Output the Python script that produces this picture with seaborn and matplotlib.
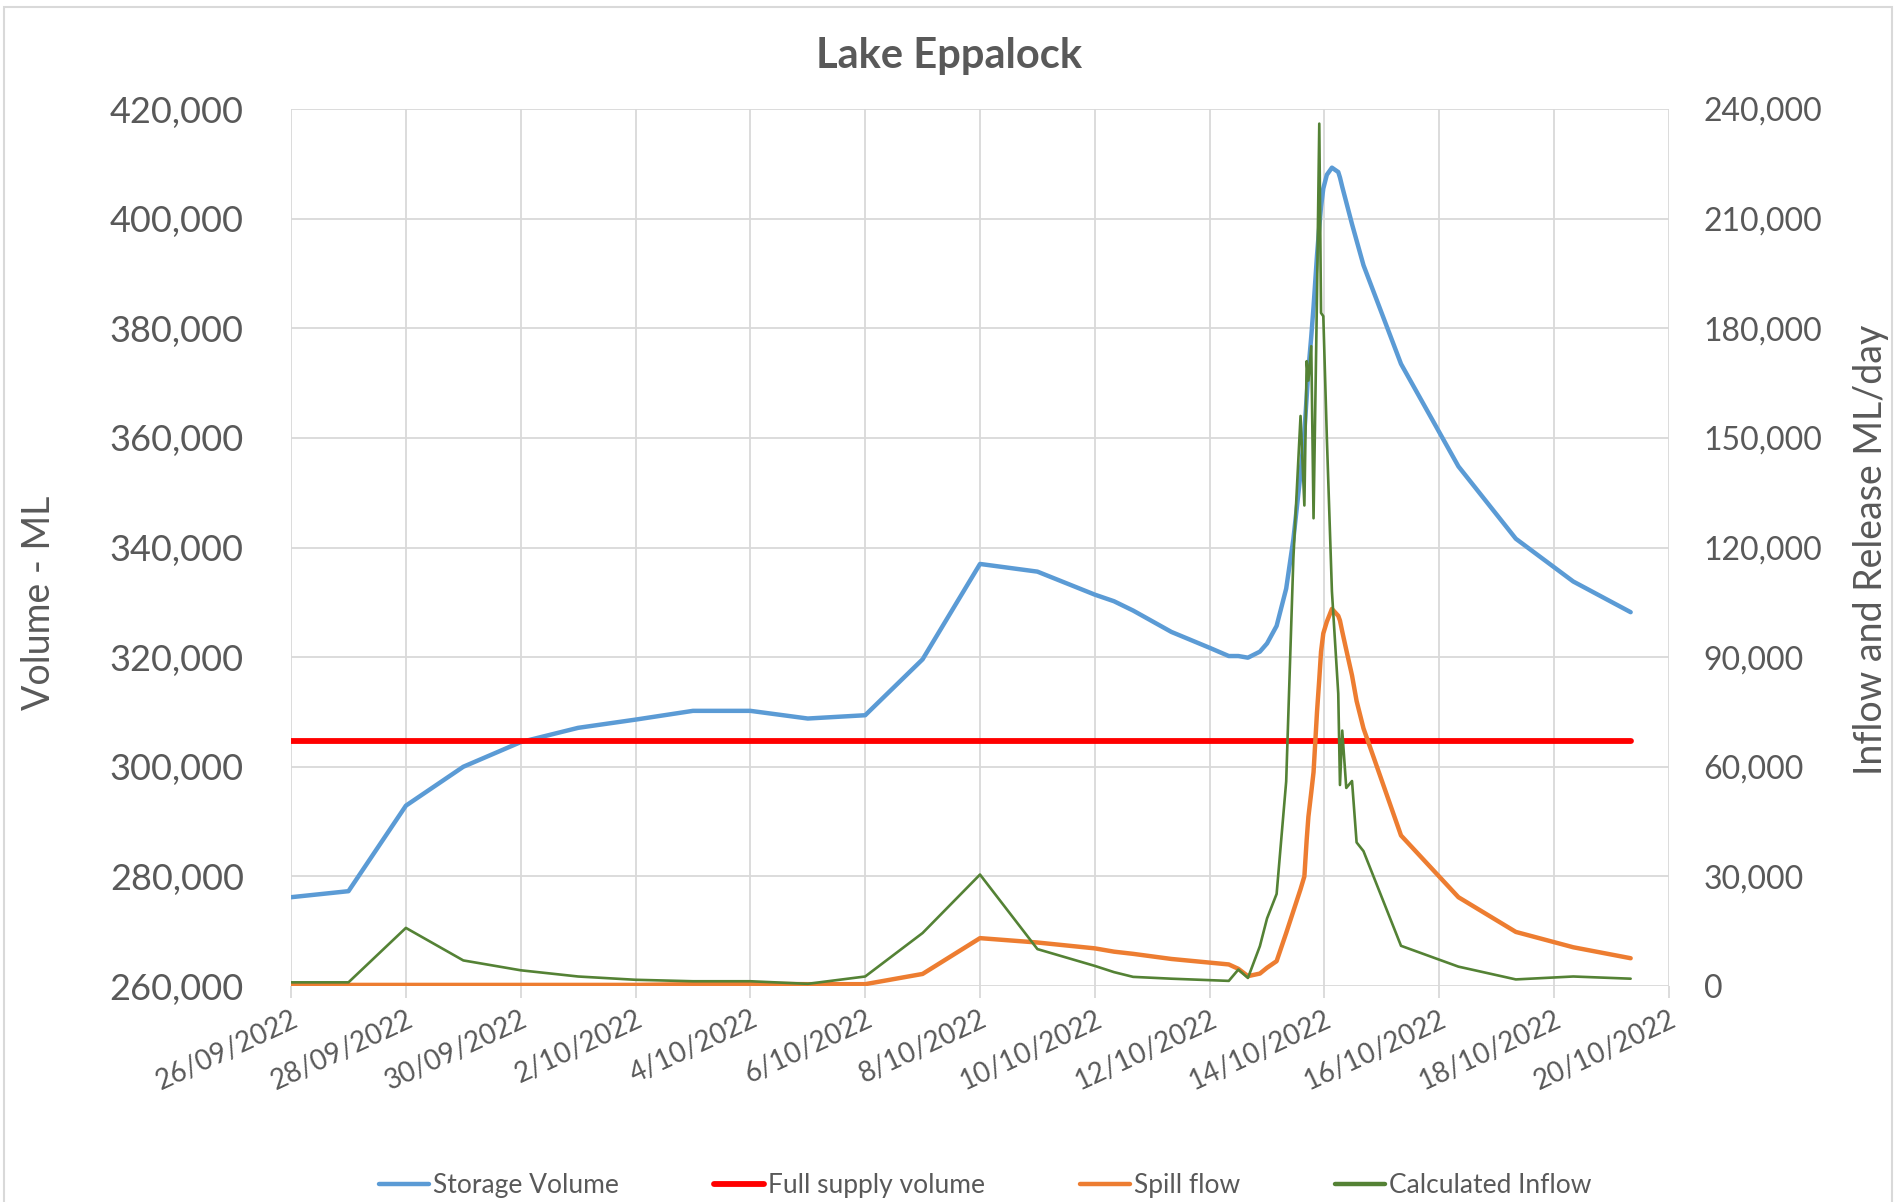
import matplotlib
matplotlib.use('Agg')
import matplotlib.pyplot as plt
import matplotlib.dates as mdates
import matplotlib.patches as patches
from matplotlib.ticker import FuncFormatter, MultipleLocator
from matplotlib.lines import Line2D
import seaborn as sns
import pandas as pd

# readings (time, storage ML, spill ML/day, inflow ML/day)
times = [
    "2022-09-26 00:00", "2022-09-27 00:00", "2022-09-28 00:00", "2022-09-29 00:00",
    "2022-09-30 00:00", "2022-10-01 00:00", "2022-10-02 00:00", "2022-10-03 00:00",
    "2022-10-04 00:00", "2022-10-05 00:00", "2022-10-06 00:00", "2022-10-07 00:00",
    "2022-10-08 00:00", "2022-10-09 00:00", "2022-10-10 00:00", "2022-10-10 08:00",
    "2022-10-10 16:00", "2022-10-11 08:00", "2022-10-12 00:00", "2022-10-12 08:00",
    "2022-10-12 12:00", "2022-10-12 16:00", "2022-10-12 21:00", "2022-10-13 00:00",
    "2022-10-13 04:00", "2022-10-13 08:00", "2022-10-13 11:00", "2022-10-13 14:00",
    "2022-10-13 15:36", "2022-10-13 16:34", "2022-10-13 17:17", "2022-10-13 18:29",
    "2022-10-13 19:26", "2022-10-13 20:53", "2022-10-13 21:50", "2022-10-13 22:34",
    "2022-10-13 23:31", "2022-10-14 01:00", "2022-10-14 03:07", "2022-10-14 05:46",
    "2022-10-14 06:29", "2022-10-14 07:26", "2022-10-14 09:07", "2022-10-14 11:31",
    "2022-10-14 13:26", "2022-10-14 16:19", "2022-10-15 08:00", "2022-10-16 08:00",
    "2022-10-17 08:00", "2022-10-18 08:00", "2022-10-19 08:00",
]
storage_volume = [
    276200, 277300, 292900, 300000, 304500, 307100, 308600, 310200,
    310200, 308800, 309400, 319600, 337000, 335600, 331400, 330200,
    328500, 324600, 321700, 320200, 320200, 319900, 321000, 322500,
    325700, 332500, 341500, 353500, 361000, 367500, 372400, 378500,
    383900, 393300, 398500, 402200, 405500, 408000, 409300, 408500,
    407500, 405800, 403000, 399000, 396000, 391500, 373500, 354800,
    341600, 333800, 328200,
]
spill_flow = [
    300, 300, 300, 300, 300, 300, 300, 500,
    600, 500, 500, 3300, 13100, 11900, 10300, 9400,
    8800, 7400, 6400, 5900, 4700, 2700, 3400, 5000,
    6800, 14500, 20500, 26500, 30000, 40000, 46300, 53000,
    58500, 75000, 84000, 91500, 96500, 99700, 103200, 101300,
    100000, 97000, 92000, 85000, 78000, 70500, 41200, 24300,
    14800, 10600, 7600,
]
calculated_inflow = [
    1000, 1000, 15900, 7000, 4300, 2600, 1700, 1300,
    1300, 600, 2600, 14500, 30500, 10100, 5500, 3800,
    2500, 2000, 1600, 1400, 4500, 2200, 10900, 18500,
    25200, 56000, 117000, 156000, 131500, 171000, 165700, 175100,
    128000, 189300, 236000, 184200, 183300, 150000, 108000, 80000,
    55000, 69900, 54200, 56100, 39300, 36900, 11000, 5300,
    1800, 2600, 2000,
]
full_supply_times = ["2022-09-26 00:00", "2022-10-19 08:00"]
full_supply_volume = [304651, 304651]

df = pd.DataFrame({
    'time': pd.to_datetime(times),
    'storage': storage_volume,
    'spill': spill_flow,
    'inflow': calculated_inflow,
})
fsv = pd.DataFrame({'time': pd.to_datetime(full_supply_times), 'volume': full_supply_volume})

sns.set_theme(style='white')
plt.rcParams['font.family'] = ['Lato', 'DejaVu Sans']

text_grey = '#595959'
grid_grey = '#d9d9d9'
c_blue, c_red, c_orange, c_green = '#5b9bd5', '#ff0000', '#ed7d31', '#548235'

fig = plt.figure(figsize=(18.95, 12.02), dpi=100)
ax = fig.add_axes([0.1536, 0.1797, 0.7271, 0.7296])
ax2 = ax.twinx()

sns.lineplot(data=df, x='time', y='storage', ax=ax, color=c_blue, linewidth=3.2, legend=False)
sns.lineplot(data=fsv, x='time', y='volume', ax=ax, color=c_red, linewidth=4.2, legend=False)
sns.lineplot(data=df, x='time', y='spill', ax=ax2, color=c_orange, linewidth=3.2, legend=False)
sns.lineplot(data=df, x='time', y='inflow', ax=ax2, color=c_green, linewidth=1.9, legend=False)

ax.set_xlim(pd.Timestamp('2022-09-26'), pd.Timestamp('2022-10-20'))
ax.set_ylim(260000, 420000)
ax2.set_ylim(0, 240000)
ax.yaxis.set_major_locator(MultipleLocator(20000))
ax2.yaxis.set_major_locator(MultipleLocator(30000))
comma = FuncFormatter(lambda v, p: f'{int(v):,}')
ax.yaxis.set_major_formatter(comma)
ax2.yaxis.set_major_formatter(comma)

ax.xaxis.set_major_locator(mdates.DayLocator(interval=2))
ax.xaxis.set_major_formatter(FuncFormatter(
    lambda v, p: f'{mdates.num2date(v).day}/{mdates.num2date(v).month:02d}/{mdates.num2date(v).year}'))

ax.grid(True, color=grid_grey, linewidth=1.3)
ax.set_axisbelow(True)
for a in (ax, ax2):
    for s in a.spines.values():
        s.set_visible(False)

ax.tick_params(axis='y', length=0, pad=34, labelsize=26, labelcolor=text_grey)
ax2.tick_params(axis='y', length=0, pad=25, labelsize=23, labelcolor=text_grey)
ax.tick_params(axis='x', length=8.5, width=1.3, color=grid_grey, direction='out',
               pad=6, labelsize=20, labelcolor=text_grey, bottom=True)
for lab in ax.get_xticklabels():
    lab.set_rotation(25)
    lab.set_ha('right')
    lab.set_va('top')
    lab.set_rotation_mode('anchor')

ax.set_xlabel('')
ax.set_ylabel('Volume - ML', fontsize=27, color=text_grey, va='center', ha='center')
ax.yaxis.set_label_coords(-0.183, 0.437)
ax2.set_ylabel('Inflow and Release ML/day', fontsize=27, color=text_grey,
               va='center', ha='center', rotation=90)
ax2.yaxis.set_label_coords(1.1466, 0.497)

fig.text(0.5008, 0.9535, 'Lake Eppalock', ha='center', va='center',
         fontsize=30, fontweight='bold', color=text_grey)

handles = [
    Line2D([], [], color=c_blue, linewidth=3.2),
    Line2D([], [], color=c_red, linewidth=4.2),
    Line2D([], [], color=c_orange, linewidth=3.2),
    Line2D([], [], color=c_green, linewidth=3.2),
]
names = ['Storage Volume', 'Full supply volume', 'Spill flow', 'Calculated Inflow']
leg = fig.legend(handles, names, loc='center', bbox_to_anchor=(0.52, 0.0135), ncol=4,
                 frameon=False, fontsize=19, handlelength=1.9, handletextpad=0.15,
                 columnspacing=3.6)
for t in leg.get_texts():
    t.set_color(text_grey)

border = patches.Rectangle((4 / 1895, -0.01), 1888 / 1895, 1 - 7 / 1202 + 0.01,
                           transform=fig.transFigure, fill=False,
                           edgecolor=grid_grey, linewidth=1.5, clip_on=False)
fig.patches.append(border)

fig.savefig('out.png', dpi=100)
